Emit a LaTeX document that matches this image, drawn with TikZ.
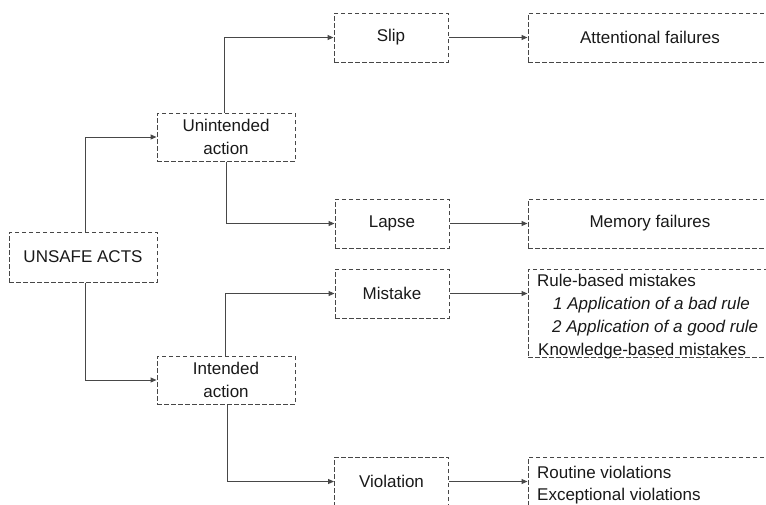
\documentclass[tikz,border=0pt]{standalone}
\usepackage{fontspec}
\setmainfont{Liberation Sans}
\usetikzlibrary{arrows.meta}
\begin{document}
\begin{tikzpicture}[x=1pt,y=-1pt,
  box/.style={draw=black!72, dash pattern=on 4.5pt off 2.5pt, line width=1pt,
    inner sep=0pt, font=\fontsize{17}{23}\selectfont, text=black!90, align=center},
  txt/.style={anchor=base west, inner sep=0pt, font=\fontsize{17}{23}\selectfont, text=black!90},
  link/.style={draw=black!72, line width=1pt, -{Triangle[length=6pt,width=5pt]}}]
\useasboundingbox (0,0) rectangle (766,504);

% classification boxes
\node[box, minimum width=148pt, minimum height=50pt] (unsafe) at (83,257) {UNSAFE ACTS};
\node[box, minimum width=138pt, minimum height=48pt] (unint) at (226,137) {Unintended\\action};
\node[box, minimum width=138pt, minimum height=48pt] (intend) at (226,380) {Intended\\action};
\node[box, minimum width=114pt, minimum height=49pt] (slip) at (391,37.5) {Slip};
\node[box, minimum width=114pt, minimum height=49pt] (lapse) at (392,223.5) {Lapse};
\node[box, minimum width=114pt, minimum height=49pt] (mistake) at (392,293.5) {Mistake};
\node[box, minimum width=114pt, minimum height=49pt] (violation) at (391.5,481.5) {Violation};

% outcome boxes
\node[box, minimum width=244pt, minimum height=49pt] (attn) at (650,37.5) {Attentional failures};
\node[box, minimum width=244pt, minimum height=49pt] (memory) at (650,223.5) {Memory failures};
\node[box, minimum width=244pt, minimum height=88pt] (rulebox) at (650,313) {};
\node[box, minimum width=244pt, minimum height=56pt] (routinebox) at (650,485) {};

% listed contents
\node[txt] (rb) at (537,286) {Rule-based mistakes};
\node[txt] (bad) at (553,309) {\itshape 1 Application of a bad rule};
\node[txt] (good) at (552,332) {\itshape 2 Application of a good rule};
\node[txt] (kb) at (538,355) {Knowledge-based mistakes};
\node[txt] (rout) at (537,478) {Routine violations};
\node[txt] (exc) at (537,500) {Exceptional violations};

% connectors
\draw[link] ([xshift=2pt]unsafe.north) |- (unint.west);
\draw[link] ([xshift=2pt]unsafe.south) |- (intend.west);
\draw[link] ([xshift=-2pt]unint.north) |- (slip.west);
\draw[link] (unint.south) |- (lapse.west);
\draw[link] ([xshift=-1pt]intend.north) |- (mistake.west);
\draw[link] ([xshift=1pt]intend.south) |- (violation.west);
\draw[link] (slip.east) -- (attn.west);
\draw[link] (lapse.east) -- (memory.west);
\draw[link] (mistake.east) -- (mistake.east -| rulebox.west);
\draw[link] (violation.east) -- (violation.east -| routinebox.west);
\end{tikzpicture}
\end{document}
